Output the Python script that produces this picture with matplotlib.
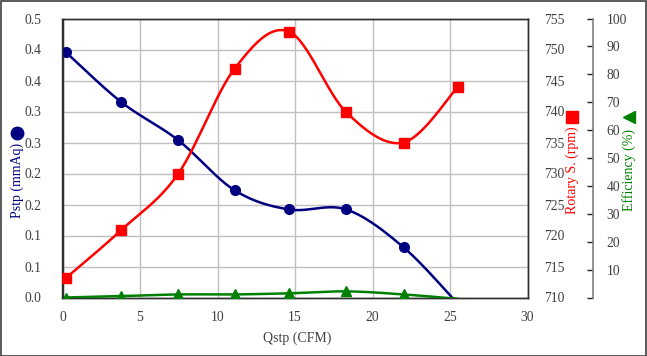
import numpy as np
import matplotlib
matplotlib.use("Agg")
import matplotlib.pyplot as plt
from matplotlib.patches import Rectangle
from matplotlib.lines import Line2D

plt.rcParams['font.family'] = ['Liberation Serif', 'DejaVu Sans']

# data
qstp = [0.2, 3.8, 7.45, 11.1, 14.6, 18.3, 22.0, 25.5]
pstp = [0.396, 0.315, 0.254, 0.173, 0.142, 0.142, 0.081, -0.01]
rpm = [713.1, 720.9, 729.9, 746.9, 752.9, 739.9, 735.0, 743.95]
eff = [0.0, 0.5, 1.1, 1.1, 1.5, 2.2, 1.1, -0.5]

pstp_ticks = [0.0, 0.05, 0.10, 0.15, 0.20, 0.25, 0.30, 0.35, 0.40, 0.45]
pstp_ticklabels = ['0.0', '0.1', '0.1', '0.2', '0.2', '0.3', '0.3', '0.4', '0.4', '0.5']
rpm_ticks = [710, 715, 720, 725, 730, 735, 740, 745, 750, 755]
eff_ticks = [0, 10, 20, 30, 40, 50, 60, 70, 80, 90, 100]
eff_ticklabels = ['', '10', '20', '30', '40', '50', '60', '70', '80', '90', '100']
x_ticks = [0, 5, 10, 15, 20, 25, 30]

NAVY = '#000080'
RED = '#ff0000'
GREEN = '#008000'
TXT = '#404040'
FS = 9.8


def smooth(x, y, n=30):
    # excel-like smoothed line (catmull-rom bezier)
    x = np.asarray(x, float)
    y = np.asarray(y, float)
    P = np.column_stack([x, y])
    P = np.vstack([P[0], P, P[-1]])
    out = []
    t = np.linspace(0, 1, n)[:, None]
    for i in range(1, len(P) - 2):
        p0, p1, p2, p3 = P[i - 1], P[i], P[i + 1], P[i + 2]
        c1 = p1 + (p2 - p0) / 6
        c2 = p2 - (p3 - p1) / 6
        seg = (1 - t)**3 * p1 + 3 * (1 - t)**2 * t * c1 + 3 * (1 - t) * t**2 * c2 + t**3 * p2
        out.append(seg if i == 1 else seg[1:])
    out = np.vstack(out)
    return out[:, 0], out[:, 1]


fig = plt.figure(figsize=(6.47, 3.56), dpi=100)
ax = fig.add_axes([62.5/647, 1-297.5/356, 465/647, 279/356])
ax2 = ax.twinx()
ax3 = ax.twinx()

# pstp
sx, sy = smooth(qstp, pstp)
ax.plot(sx, sy, color=NAVY, lw=1.8, zorder=3)
ax.plot(qstp[:-1], pstp[:-1], 'o', color=NAVY, ms=7, zorder=4)
ax.set_xlim(0, 30)
ax.set_ylim(0, 0.45)
ax.set_xticks(x_ticks)
ax.set_yticks(pstp_ticks)
ax.set_yticklabels(pstp_ticklabels)
ax.grid(True, color='#c0c0c0', lw=1)
ax.set_axisbelow(True)
ax.tick_params(length=0, labelsize=FS, labelcolor=TXT)
ax.tick_params(axis='y', pad=15)
ax.tick_params(axis='x', pad=10)

# rpm
sx, sy = smooth(qstp, rpm)
ax2.plot(sx, sy, color=RED, lw=1.8, zorder=3)
ax2.plot(qstp, rpm, 's', color=RED, ms=7.5, zorder=4)
ax2.set_ylim(710, 755)
ax2.set_yticks(rpm_ticks)
ax2.tick_params(length=0, labelsize=FS, labelcolor=TXT, pad=12)

# efficiency
sx, sy = smooth(qstp, eff)
ax3.plot(sx, sy, color=GREEN, lw=1.8, zorder=3)
ax3.plot(qstp[:-1], eff[:-1], '^', color=GREEN, ms=7, zorder=4)
ax3.set_ylim(0, 100)
ax3.set_yticks(eff_ticks)
ax3.set_yticklabels(eff_ticklabels)
ax3.spines['right'].set_position(('axes', 530/465))
ax3.spines['right'].set_color('#808080')
ax3.spines['right'].set_linewidth(1.2)
ax3.tick_params(direction='in', length=4, width=1, color='#202020',
                labelsize=FS, labelcolor=TXT, pad=10)
for s in ['top', 'left', 'bottom']:
    ax3.spines[s].set_visible(False)

for a in (ax, ax2):
    for s in a.spines.values():
        s.set_color('#303030')
        s.set_linewidth(1)

# axis titles with their series symbol
fig.text(17/647, 1-180/356, 'Pstp (mmAq)', rotation=90, ha='center', va='center',
         color=NAVY, fontsize=10)
fig.text(572/647, 1-170.5/356, 'Rotary S. (rpm)', rotation=90, ha='center', va='center',
         color=RED, fontsize=10)
fig.text(629/647, 1-170/356, 'Efficiency (%)', rotation=90, ha='center', va='center',
         color=GREEN, fontsize=10)
fig.add_artist(Line2D([17.3/647], [1-133.3/356], marker='o', ms=9, color=NAVY,
                      transform=fig.transFigure))
fig.add_artist(Line2D([571.7/647], [1-117.3/356], marker='s', ms=8.5, color=RED,
                      transform=fig.transFigure))
fig.add_artist(Line2D([629/647], [1-117.3/356], marker='<', ms=9, color=GREEN,
                      transform=fig.transFigure))
fig.text(297/647, 1-338/356, 'Qstp (CFM)', ha='center', va='center', color=TXT, fontsize=10)

fig.patches.append(Rectangle((0.5/647, 0.5/356), 645.5/647, 354.5/356, transform=fig.transFigure,
                             fill=False, edgecolor='#404040', lw=1.2))

fig.savefig('out.png', dpi=100)
